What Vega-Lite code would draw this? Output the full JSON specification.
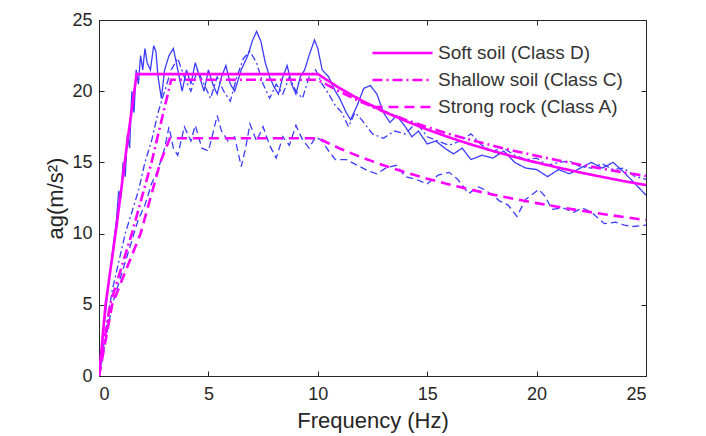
{
  "$schema": "https://vega.github.io/schema/vega-lite/v6.json",
  "autosize": {"type": "none"},
  "width": 547,
  "height": 356,
  "padding": {"left": 99, "top": 20, "right": 60, "bottom": 60},
  "background": "white",
  "config": {
    "view": {"stroke": "#262626", "strokeWidth": 1},
    "font": "Liberation Sans",
    "axis": {
      "grid": false,
      "domainColor": "#262626",
      "tickColor": "#262626",
      "labelColor": "#262626",
      "titleColor": "#262626",
      "labelFont": "Liberation Sans",
      "titleFont": "Liberation Sans",
      "labelFontSize": 18,
      "titleFontSize": 22,
      "titleFontWeight": "normal",
      "tickSize": -5
    }
  },
  "datasets": {
    "design": [
      {"f": 0, "v": 0, "s": "Soft soil (Class D)"},
      {"f": 0.3, "v": 5, "s": "Soft soil (Class D)"},
      {"f": 0.8, "v": 10.5, "s": "Soft soil (Class D)"},
      {"f": 1.3, "v": 16.5, "s": "Soft soil (Class D)"},
      {"f": 1.72, "v": 21.2, "s": "Soft soil (Class D)"},
      {"f": 10, "v": 21.2, "s": "Soft soil (Class D)"},
      {"f": 11, "v": 20.21, "s": "Soft soil (Class D)"},
      {"f": 12, "v": 19.35, "s": "Soft soil (Class D)"},
      {"f": 13, "v": 18.59, "s": "Soft soil (Class D)"},
      {"f": 14, "v": 17.92, "s": "Soft soil (Class D)"},
      {"f": 15, "v": 17.31, "s": "Soft soil (Class D)"},
      {"f": 16, "v": 16.76, "s": "Soft soil (Class D)"},
      {"f": 17, "v": 16.26, "s": "Soft soil (Class D)"},
      {"f": 18, "v": 15.8, "s": "Soft soil (Class D)"},
      {"f": 19, "v": 15.38, "s": "Soft soil (Class D)"},
      {"f": 20, "v": 14.99, "s": "Soft soil (Class D)"},
      {"f": 21, "v": 14.63, "s": "Soft soil (Class D)"},
      {"f": 22, "v": 14.29, "s": "Soft soil (Class D)"},
      {"f": 23, "v": 13.98, "s": "Soft soil (Class D)"},
      {"f": 24, "v": 13.68, "s": "Soft soil (Class D)"},
      {"f": 25, "v": 13.41, "s": "Soft soil (Class D)"},
      {"f": 0, "v": 0, "s": "Shallow soil (Class C)"},
      {"f": 0.5, "v": 5, "s": "Shallow soil (Class C)"},
      {"f": 1.5, "v": 10, "s": "Shallow soil (Class C)"},
      {"f": 2.4, "v": 15, "s": "Shallow soil (Class C)"},
      {"f": 3.3, "v": 20.8, "s": "Shallow soil (Class C)"},
      {"f": 10, "v": 20.8, "s": "Shallow soil (Class C)"},
      {"f": 11, "v": 19.97, "s": "Shallow soil (Class C)"},
      {"f": 12, "v": 19.23, "s": "Shallow soil (Class C)"},
      {"f": 13, "v": 18.58, "s": "Shallow soil (Class C)"},
      {"f": 14, "v": 18.0, "s": "Shallow soil (Class C)"},
      {"f": 15, "v": 17.48, "s": "Shallow soil (Class C)"},
      {"f": 16, "v": 17.0, "s": "Shallow soil (Class C)"},
      {"f": 17, "v": 16.57, "s": "Shallow soil (Class C)"},
      {"f": 18, "v": 16.17, "s": "Shallow soil (Class C)"},
      {"f": 19, "v": 15.8, "s": "Shallow soil (Class C)"},
      {"f": 20, "v": 15.46, "s": "Shallow soil (Class C)"},
      {"f": 21, "v": 15.14, "s": "Shallow soil (Class C)"},
      {"f": 22, "v": 14.84, "s": "Shallow soil (Class C)"},
      {"f": 23, "v": 14.56, "s": "Shallow soil (Class C)"},
      {"f": 24, "v": 14.29, "s": "Shallow soil (Class C)"},
      {"f": 25, "v": 14.04, "s": "Shallow soil (Class C)"},
      {"f": 0, "v": 0, "s": "Strong rock (Class A)"},
      {"f": 0.6, "v": 5, "s": "Strong rock (Class A)"},
      {"f": 1.9, "v": 10, "s": "Strong rock (Class A)"},
      {"f": 2.8, "v": 15, "s": "Strong rock (Class A)"},
      {"f": 3.24, "v": 16.7, "s": "Strong rock (Class A)"},
      {"f": 10, "v": 16.7, "s": "Strong rock (Class A)"},
      {"f": 11, "v": 15.98, "s": "Strong rock (Class A)"},
      {"f": 12, "v": 15.35, "s": "Strong rock (Class A)"},
      {"f": 13, "v": 14.8, "s": "Strong rock (Class A)"},
      {"f": 14, "v": 14.3, "s": "Strong rock (Class A)"},
      {"f": 15, "v": 13.85, "s": "Strong rock (Class A)"},
      {"f": 16, "v": 13.45, "s": "Strong rock (Class A)"},
      {"f": 17, "v": 13.08, "s": "Strong rock (Class A)"},
      {"f": 18, "v": 12.74, "s": "Strong rock (Class A)"},
      {"f": 19, "v": 12.43, "s": "Strong rock (Class A)"},
      {"f": 20, "v": 12.14, "s": "Strong rock (Class A)"},
      {"f": 21, "v": 11.87, "s": "Strong rock (Class A)"},
      {"f": 22, "v": 11.62, "s": "Strong rock (Class A)"},
      {"f": 23, "v": 11.38, "s": "Strong rock (Class A)"},
      {"f": 24, "v": 11.16, "s": "Strong rock (Class A)"},
      {"f": 25, "v": 10.95, "s": "Strong rock (Class A)"}
    ],
    "measured": [
      {"f": 0, "v": 0, "s": "D"}, {"f": 0.2, "v": 3, "s": "D"}, {"f": 0.4, "v": 6, "s": "D"}, {"f": 0.6, "v": 8.5, "s": "D"},
      {"f": 0.8, "v": 11, "s": "D"}, {"f": 0.9, "v": 13, "s": "D"}, {"f": 1.0, "v": 12.5, "s": "D"}, {"f": 1.1, "v": 15, "s": "D"},
      {"f": 1.2, "v": 14, "s": "D"}, {"f": 1.3, "v": 17, "s": "D"}, {"f": 1.4, "v": 16, "s": "D"}, {"f": 1.5, "v": 20, "s": "D"},
      {"f": 1.6, "v": 18.5, "s": "D"}, {"f": 1.7, "v": 21.5, "s": "D"}, {"f": 1.8, "v": 20.5, "s": "D"}, {"f": 1.9, "v": 22.5, "s": "D"},
      {"f": 2.0, "v": 21.5, "s": "D"}, {"f": 2.1, "v": 23, "s": "D"}, {"f": 2.2, "v": 22, "s": "D"}, {"f": 2.35, "v": 21.5, "s": "D"},
      {"f": 2.5, "v": 23.2, "s": "D"}, {"f": 2.6, "v": 22.8, "s": "D"}, {"f": 2.7, "v": 21.0, "s": "D"}, {"f": 2.85, "v": 19.5, "s": "D"},
      {"f": 3.0, "v": 21.5, "s": "D"}, {"f": 3.2, "v": 22.5, "s": "D"}, {"f": 3.4, "v": 23.0, "s": "D"}, {"f": 3.6, "v": 21.5, "s": "D"},
      {"f": 3.8, "v": 20.0, "s": "D"}, {"f": 4.0, "v": 21.5, "s": "D"}, {"f": 4.2, "v": 20.5, "s": "D"}, {"f": 4.4, "v": 22.0, "s": "D"},
      {"f": 4.6, "v": 21.0, "s": "D"}, {"f": 4.8, "v": 20.0, "s": "D"}, {"f": 5.0, "v": 21.5, "s": "D"}, {"f": 5.2, "v": 20.5, "s": "D"},
      {"f": 5.4, "v": 19.8, "s": "D"}, {"f": 5.6, "v": 21.0, "s": "D"}, {"f": 5.8, "v": 21.8, "s": "D"}, {"f": 6.0, "v": 20.5, "s": "D"},
      {"f": 6.2, "v": 20.0, "s": "D"}, {"f": 6.5, "v": 21.5, "s": "D"}, {"f": 6.8, "v": 22.5, "s": "D"}, {"f": 7.0, "v": 23.5, "s": "D"},
      {"f": 7.2, "v": 24.2, "s": "D"}, {"f": 7.4, "v": 23.5, "s": "D"}, {"f": 7.6, "v": 22.0, "s": "D"}, {"f": 7.8, "v": 21.0, "s": "D"},
      {"f": 8.0, "v": 20.3, "s": "D"}, {"f": 8.2, "v": 19.8, "s": "D"}, {"f": 8.4, "v": 21.0, "s": "D"}, {"f": 8.6, "v": 21.8, "s": "D"},
      {"f": 8.8, "v": 20.5, "s": "D"}, {"f": 9.0, "v": 19.8, "s": "D"}, {"f": 9.2, "v": 21.0, "s": "D"}, {"f": 9.4, "v": 21.5, "s": "D"},
      {"f": 9.6, "v": 22.5, "s": "D"}, {"f": 9.85, "v": 23.6, "s": "D"}, {"f": 10.0, "v": 23.0, "s": "D"}, {"f": 10.2, "v": 21.5, "s": "D"},
      {"f": 10.5, "v": 21.0, "s": "D"}, {"f": 10.8, "v": 20.0, "s": "D"}, {"f": 11.0, "v": 19.5, "s": "D"}, {"f": 11.3, "v": 18.5, "s": "D"},
      {"f": 11.5, "v": 18.0, "s": "D"}, {"f": 11.8, "v": 19.0, "s": "D"}, {"f": 12.1, "v": 20.2, "s": "D"}, {"f": 12.4, "v": 20.4, "s": "D"},
      {"f": 12.7, "v": 19.8, "s": "D"}, {"f": 13.0, "v": 18.5, "s": "D"}, {"f": 13.3, "v": 17.8, "s": "D"}, {"f": 13.6, "v": 18.3, "s": "D"},
      {"f": 14.0, "v": 17.5, "s": "D"}, {"f": 14.3, "v": 16.8, "s": "D"}, {"f": 14.6, "v": 17.2, "s": "D"}, {"f": 15.0, "v": 16.3, "s": "D"},
      {"f": 15.4, "v": 16.5, "s": "D"}, {"f": 15.8, "v": 16.0, "s": "D"}, {"f": 16.2, "v": 15.6, "s": "D"}, {"f": 16.6, "v": 16.0, "s": "D"},
      {"f": 17.0, "v": 15.2, "s": "D"}, {"f": 17.5, "v": 15.5, "s": "D"}, {"f": 18.0, "v": 15.3, "s": "D"}, {"f": 18.5, "v": 15.8, "s": "D"},
      {"f": 19.0, "v": 15.0, "s": "D"}, {"f": 19.5, "v": 14.6, "s": "D"}, {"f": 20.0, "v": 14.5, "s": "D"}, {"f": 20.5, "v": 14.0, "s": "D"},
      {"f": 21.0, "v": 14.5, "s": "D"}, {"f": 21.5, "v": 14.2, "s": "D"}, {"f": 22.0, "v": 14.6, "s": "D"}, {"f": 22.5, "v": 15.0, "s": "D"},
      {"f": 23.0, "v": 14.6, "s": "D"}, {"f": 23.5, "v": 15.0, "s": "D"}, {"f": 24.0, "v": 14.3, "s": "D"}, {"f": 24.5, "v": 13.5, "s": "D"},
      {"f": 25.0, "v": 12.7, "s": "D"},
      {"f": 0, "v": 0, "s": "C"}, {"f": 0.3, "v": 3, "s": "C"}, {"f": 0.6, "v": 6, "s": "C"}, {"f": 0.9, "v": 8, "s": "C"},
      {"f": 1.2, "v": 10, "s": "C"}, {"f": 1.5, "v": 11.5, "s": "C"}, {"f": 1.8, "v": 13, "s": "C"}, {"f": 2.1, "v": 15, "s": "C"},
      {"f": 2.4, "v": 16.5, "s": "C"}, {"f": 2.7, "v": 18.5, "s": "C"}, {"f": 3.0, "v": 20, "s": "C"}, {"f": 3.3, "v": 21.5, "s": "C"},
      {"f": 3.6, "v": 22.3, "s": "C"}, {"f": 3.9, "v": 21, "s": "C"}, {"f": 4.2, "v": 20, "s": "C"}, {"f": 4.5, "v": 21.5, "s": "C"},
      {"f": 4.8, "v": 20.5, "s": "C"}, {"f": 5.1, "v": 19.5, "s": "C"}, {"f": 5.4, "v": 21, "s": "C"}, {"f": 5.7, "v": 20, "s": "C"},
      {"f": 6.0, "v": 19.3, "s": "C"}, {"f": 6.3, "v": 21, "s": "C"}, {"f": 6.6, "v": 22.3, "s": "C"}, {"f": 6.9, "v": 22.8, "s": "C"},
      {"f": 7.2, "v": 22, "s": "C"}, {"f": 7.5, "v": 20.5, "s": "C"}, {"f": 7.8, "v": 19.5, "s": "C"}, {"f": 8.1, "v": 20.5, "s": "C"},
      {"f": 8.4, "v": 19.8, "s": "C"}, {"f": 8.7, "v": 21, "s": "C"}, {"f": 9.0, "v": 20, "s": "C"}, {"f": 9.3, "v": 19.5, "s": "C"},
      {"f": 9.6, "v": 21, "s": "C"}, {"f": 9.9, "v": 21.5, "s": "C"}, {"f": 10.2, "v": 20.5, "s": "C"}, {"f": 10.5, "v": 19.8, "s": "C"},
      {"f": 10.8, "v": 19, "s": "C"}, {"f": 11.1, "v": 18.5, "s": "C"}, {"f": 11.4, "v": 17.5, "s": "C"}, {"f": 11.7, "v": 18.5, "s": "C"},
      {"f": 12.0, "v": 18, "s": "C"}, {"f": 12.5, "v": 17, "s": "C"}, {"f": 13.0, "v": 16.7, "s": "C"}, {"f": 13.5, "v": 17.2, "s": "C"},
      {"f": 14.0, "v": 17.0, "s": "C"}, {"f": 14.5, "v": 17.8, "s": "C"}, {"f": 15.0, "v": 16.8, "s": "C"}, {"f": 15.5, "v": 16.5, "s": "C"},
      {"f": 16.0, "v": 16.2, "s": "C"}, {"f": 16.5, "v": 16.5, "s": "C"}, {"f": 17.0, "v": 17.0, "s": "C"}, {"f": 17.5, "v": 16.2, "s": "C"},
      {"f": 18.0, "v": 15.8, "s": "C"}, {"f": 18.5, "v": 16.0, "s": "C"}, {"f": 19.0, "v": 15.5, "s": "C"}, {"f": 19.5, "v": 15.2, "s": "C"},
      {"f": 20.0, "v": 15.3, "s": "C"}, {"f": 20.5, "v": 14.8, "s": "C"}, {"f": 21.0, "v": 15.0, "s": "C"}, {"f": 21.5, "v": 15.1, "s": "C"},
      {"f": 22.0, "v": 14.7, "s": "C"}, {"f": 22.5, "v": 14.6, "s": "C"}, {"f": 23.0, "v": 14.9, "s": "C"}, {"f": 23.5, "v": 14.5, "s": "C"},
      {"f": 24.0, "v": 14.6, "s": "C"}, {"f": 24.5, "v": 14.0, "s": "C"}, {"f": 25.0, "v": 13.8, "s": "C"},
      {"f": 0, "v": 0, "s": "A"}, {"f": 0.3, "v": 2.5, "s": "A"}, {"f": 0.6, "v": 5, "s": "A"}, {"f": 0.9, "v": 6.5, "s": "A"},
      {"f": 1.2, "v": 8, "s": "A"}, {"f": 1.5, "v": 9.5, "s": "A"}, {"f": 1.8, "v": 11, "s": "A"}, {"f": 2.1, "v": 12, "s": "A"},
      {"f": 2.4, "v": 13.5, "s": "A"}, {"f": 2.7, "v": 14.5, "s": "A"}, {"f": 3.0, "v": 16, "s": "A"}, {"f": 3.2, "v": 17.5, "s": "A"},
      {"f": 3.4, "v": 16, "s": "A"}, {"f": 3.6, "v": 15.5, "s": "A"}, {"f": 3.9, "v": 17.5, "s": "A"}, {"f": 4.2, "v": 16.5, "s": "A"},
      {"f": 4.4, "v": 17.6, "s": "A"}, {"f": 4.7, "v": 16, "s": "A"}, {"f": 5.0, "v": 15.8, "s": "A"}, {"f": 5.2, "v": 17, "s": "A"},
      {"f": 5.4, "v": 18.3, "s": "A"}, {"f": 5.6, "v": 17.2, "s": "A"}, {"f": 5.9, "v": 16.5, "s": "A"}, {"f": 6.2, "v": 16.8, "s": "A"},
      {"f": 6.5, "v": 14.7, "s": "A"}, {"f": 6.7, "v": 16, "s": "A"}, {"f": 6.9, "v": 17.7, "s": "A"}, {"f": 7.2, "v": 16.5, "s": "A"},
      {"f": 7.5, "v": 17.5, "s": "A"}, {"f": 7.8, "v": 16.2, "s": "A"}, {"f": 8.1, "v": 15.3, "s": "A"}, {"f": 8.4, "v": 16.8, "s": "A"},
      {"f": 8.7, "v": 16.2, "s": "A"}, {"f": 9.0, "v": 17.6, "s": "A"}, {"f": 9.3, "v": 16.6, "s": "A"}, {"f": 9.6, "v": 16.0, "s": "A"},
      {"f": 9.9, "v": 16.8, "s": "A"}, {"f": 10.2, "v": 16.5, "s": "A"}, {"f": 10.5, "v": 15.8, "s": "A"}, {"f": 10.8, "v": 15.2, "s": "A"},
      {"f": 11.3, "v": 15.2, "s": "A"}, {"f": 11.8, "v": 14.8, "s": "A"}, {"f": 12.3, "v": 14.4, "s": "A"}, {"f": 12.7, "v": 14.2, "s": "A"},
      {"f": 13.1, "v": 14.6, "s": "A"}, {"f": 13.6, "v": 14.8, "s": "A"}, {"f": 14.0, "v": 14.0, "s": "A"}, {"f": 14.5, "v": 13.8, "s": "A"},
      {"f": 15.0, "v": 13.5, "s": "A"}, {"f": 15.5, "v": 14.1, "s": "A"}, {"f": 16.0, "v": 14.3, "s": "A"}, {"f": 16.4, "v": 13.8, "s": "A"},
      {"f": 16.9, "v": 12.8, "s": "A"}, {"f": 17.3, "v": 13.3, "s": "A"}, {"f": 17.6, "v": 13.1, "s": "A"}, {"f": 17.9, "v": 12.8, "s": "A"},
      {"f": 18.3, "v": 12.3, "s": "A"}, {"f": 18.7, "v": 12.0, "s": "A"}, {"f": 19.1, "v": 11.2, "s": "A"}, {"f": 19.5, "v": 12.4, "s": "A"},
      {"f": 20.1, "v": 13.1, "s": "A"}, {"f": 20.4, "v": 12.6, "s": "A"}, {"f": 20.7, "v": 11.7, "s": "A"}, {"f": 21.2, "v": 11.8, "s": "A"},
      {"f": 21.7, "v": 11.5, "s": "A"}, {"f": 22.1, "v": 11.8, "s": "A"}, {"f": 22.5, "v": 11.5, "s": "A"}, {"f": 23.1, "v": 10.7, "s": "A"},
      {"f": 23.6, "v": 10.8, "s": "A"}, {"f": 24.0, "v": 10.6, "s": "A"}, {"f": 24.4, "v": 10.5, "s": "A"}, {"f": 25.0, "v": 10.6, "s": "A"}
    ]
  },
  "layer": [
    {
      "data": {"name": "measured"},
      "mark": {"type": "line", "color": "#3c3cff", "strokeWidth": 1.3, "clip": true},
      "encoding": {
        "x": {"field": "f", "type": "quantitative", "scale": {"domain": [0, 25], "nice": false},
              "axis": {"orient": "top", "labels": false, "title": null, "domain": false, "values": [0, 5, 10, 15, 20, 25]}},
        "y": {"field": "v", "type": "quantitative", "scale": {"domain": [0, 25], "nice": false},
              "axis": {"orient": "right", "labels": false, "title": null, "domain": false, "values": [0, 5, 10, 15, 20, 25]}},
        "strokeDash": {"field": "s", "type": "nominal",
                       "scale": {"domain": ["D", "C", "A"], "range": [[1, 0], [7, 3, 2, 3], [7, 4]]},
                       "legend": null}
      }
    },
    {
      "data": {"name": "design"},
      "mark": {"type": "line", "color": "#ff00ff", "strokeWidth": 2.6, "clip": true},
      "encoding": {
        "x": {"field": "f", "type": "quantitative", "scale": {"domain": [0, 25], "nice": false},
              "axis": {"orient": "bottom", "title": "Frequency (Hz)", "values": [0, 5, 10, 15, 20, 25], "labelPadding": 14, "titlePadding": 7}},
        "y": {"field": "v", "type": "quantitative", "scale": {"domain": [0, 25], "nice": false},
              "axis": {"orient": "left", "title": "ag(m/s²)", "values": [0, 5, 10, 15, 20, 25], "labelPadding": 12, "titlePadding": 4}},
        "strokeDash": {"field": "s", "type": "nominal",
                       "scale": {"domain": ["Soft soil (Class D)", "Shallow soil (Class C)", "Strong rock (Class A)"],
                                 "range": [[1, 0], [10, 4, 2, 4], [10, 6]]},
                       "legend": {"orient": "none", "legendX": 272, "legendY": 16.5, "title": null,
                                  "symbolType": "M-1,0H3", "symbolSize": 900, "symbolStrokeWidth": 2.6,
                                  "symbolStrokeColor": "#ff00ff", "symbolFillColor": "transparent", "labelFontSize": 19, "labelColor": "#333333",
                                  "labelFont": "Liberation Sans", "labelOffset": 34, "labelLimit": 400, "rowPadding": 0}}
      }
    }
  ],
  "resolve": {"scale": {"strokeDash": "independent"}, "axis": {"x": "independent", "y": "independent"}}
}
